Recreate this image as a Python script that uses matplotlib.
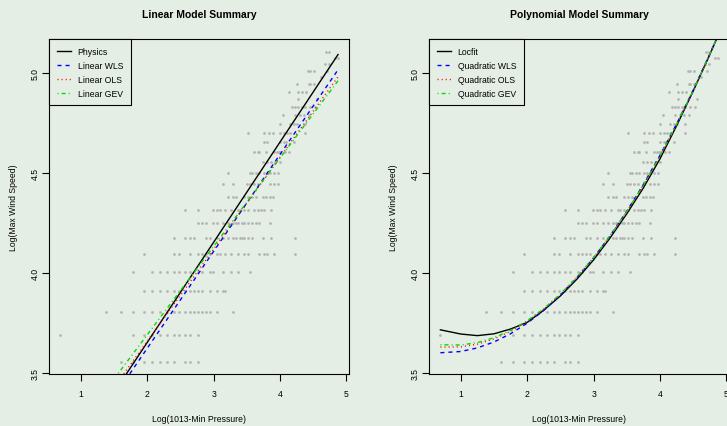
import numpy as np
import matplotlib
matplotlib.use("Agg")
import matplotlib.pyplot as plt

plt.rcParams["font.family"] = ["Liberation Sans", "DejaVu Sans"]
plt.rcParams["lines.scale_dashes"] = False

# storm data: max wind (kt) levels and the pressure deficits (1013 - min pressure) at each
wind_kt = [35, 40, 45, 50, 55, 60, 65, 70, 75, 80, 85, 90, 95, 100, 105,
           110, 115, 120, 125, 130, 135, 140, 145, 150, 155, 160, 165]
deficit_hpa = [
    [5, 6, 7, 8, 9, 10, 11, 13, 14, 16],
    [2, 6, 7, 8, 9, 10, 11, 12, 13, 14, 16],
    [4, 5, 6, 7, 8, 9, 10, 11, 12, 13, 14, 15, 16, 17, 18, 19, 21, 27],
    [7, 8, 9, 10, 11, 12, 13, 14, 15, 16, 17, 19, 21, 23, 24],
    [6, 8, 9, 10, 11, 12, 13, 14, 16, 17, 19, 20, 23, 26, 29, 35],
    [7, 11, 12, 14, 16, 17, 18, 19, 21, 22, 24, 26, 29, 32, 34, 40, 43, 45, 50, 69],
    [11, 13, 14, 15, 18, 19, 21, 23, 25, 27, 28, 30, 31, 32, 34, 36, 42, 48, 68],
    [16, 17, 18, 20, 21, 23, 25, 27, 28, 29, 31, 32, 34, 36, 38, 40, 47],
    [13, 16, 20, 21, 22, 24, 26, 29, 30, 32, 34, 37, 39, 41, 43, 48],
    [25, 27, 28, 32, 34, 36, 38, 42, 44, 47, 49],
    [23, 27, 33, 35, 37, 39, 47, 50, 53],
    [25, 35, 36, 38, 40, 43, 45, 47, 50, 53],
    [42, 45, 48, 51, 55],
    [37, 39, 40, 44, 50, 52, 54, 55, 59, 63],
    [43, 45, 55, 58, 60, 67],
    [34, 43, 46, 49, 55, 58, 61, 64, 80],
    [55, 64, 67, 71, 80],
    [57, 69, 74, 79, 84],
    [65, 69, 72, 76, 80, 86, 93],
    [72, 95],
    [63, 72, 76, 81],
    [71, 84, 86, 91],
    [102],
    [83, 86, 91, 111],
    [108, 115],
    [126, 131],
    [110, 115],
]

# linear model lines (end points over the data range)
line_x = [0.693, 4.875]
physics_y = [3.000, 5.091]
lin_wls_y = [2.992, 5.015]
lin_ols_y = [3.059, 4.980]
lin_gev_y = [3.115, 4.960]

# polynomial model curves
curve_x = [0.693, 1.0, 1.25, 1.5, 1.75, 2.0, 2.25, 2.5, 2.75, 3.0,
           3.25, 3.5, 3.75, 4.0, 4.25, 4.5, 4.75, 4.875]
locfit_y = [3.717, 3.696, 3.688, 3.697, 3.721, 3.754, 3.815, 3.886, 3.970, 4.066,
            4.176, 4.296, 4.425, 4.570, 4.735, 4.908, 5.090, 5.185]
quad_wls_y = [3.6025, 3.6087, 3.6267, 3.6562, 3.6973, 3.7500, 3.8142, 3.8900, 3.9773,
              4.0763, 4.1868, 4.3088, 4.4424, 4.5876, 4.7444, 4.9127, 5.0927, 5.1869]
quad_ols_y = [3.6310, 3.6318, 3.6456, 3.6714, 3.7091, 3.7588, 3.8204, 3.8939, 3.9793,
              4.0768, 4.1861, 4.3073, 4.4405, 4.5856, 4.7427, 4.9116, 5.0925, 5.1874]
quad_gev_y = [3.6425, 3.6410, 3.6533, 3.6775, 3.7139, 3.7624, 3.8229, 3.8955, 3.9802,
              4.0770, 4.1859, 4.3067, 4.4397, 4.5848, 4.7420, 4.9112, 5.0924, 5.1877]

BG = "#e5eee5"
LINE_STYLES = [
    dict(color="black", linestyle="-"),
    dict(color="#0000ff", linestyle=(0, (2.9, 2.9))),
    dict(color="#ff0000", linestyle=(0, (0.75, 2.2))),
    dict(color="#00dd00", linestyle=(0, (0.75, 2.2, 2.9, 2.2))),
]

pts_x, pts_y = [], []
for w, ds in zip(wind_kt, deficit_hpa):
    pts_x += list(np.log(ds))
    pts_y += [np.log(w)] * len(ds)

fig = plt.figure(figsize=(7.27, 4.27), dpi=100, facecolor=BG)


def draw_panel(ax, title, xs, series, labels):
    ax.set_facecolor(BG)
    ax.scatter(pts_x, pts_y, s=4, color="#b4b4b4", linewidths=0, zorder=1)
    handles = []
    for ys, st in zip(series, LINE_STYLES):
        h, = ax.plot(xs, ys, linewidth=1.0, zorder=2, **st)
        handles.append(h)
    ax.set_xlim(0.526, 5.045)
    ax.set_ylim(3.498, 5.167)
    ax.set_xticks([1, 2, 3, 4, 5])
    ax.set_yticks([3.5, 4.0, 4.5, 5.0])
    ax.set_yticklabels(["3.5", "4.0", "4.5", "5.0"])
    ax.tick_params(direction="out", length=4.7, width=0.8, labelsize=6.2, pad=6)
    ax.tick_params(axis="y", pad=2)
    for lab in ax.get_yticklabels():
        lab.set_rotation(90)
        lab.set_va("center")
    for sp in ax.spines.values():
        sp.set_linewidth(0.8)
        sp.set_color("black")
    ax.set_title(title, fontsize=7.5, fontweight="bold", pad=16)
    ax.set_xlabel("Log(1013-Min Pressure)", fontsize=6.2)
    ax.set_ylabel("Log(Max Wind Speed)", fontsize=6.2)
    ax.xaxis.set_label_coords(0.5, -0.122)
    ax.yaxis.set_label_coords(-0.105, 0.5)
    leg = ax.legend(handles, labels, loc="upper left", bbox_to_anchor=(0, 1),
                    borderaxespad=0, fontsize=6.2, fancybox=False, edgecolor="black",
                    facecolor=BG, framealpha=1, handlelength=1.7, handletextpad=0.75,
                    borderpad=0.85, labelspacing=0.58)
    leg.get_frame().set_linewidth(0.8)


ax1 = fig.add_axes([0.0678, 0.1225, 0.4127, 0.7831])
draw_panel(ax1, "Linear Model Summary", line_x,
           [physics_y, lin_wls_y, lin_ols_y, lin_gev_y],
           ["Physics", "Linear WLS", "Linear OLS", "Linear GEV"])

ax2 = fig.add_axes([0.5905, 0.1225, 0.4127, 0.7831])
draw_panel(ax2, "Polynomial Model Summary", curve_x,
           [locfit_y, quad_wls_y, quad_ols_y, quad_gev_y],
           ["Locfit", "Quadratic WLS", "Quadratic OLS", "Quadratic GEV"])

fig.savefig("out.png", dpi=100, facecolor=BG)
